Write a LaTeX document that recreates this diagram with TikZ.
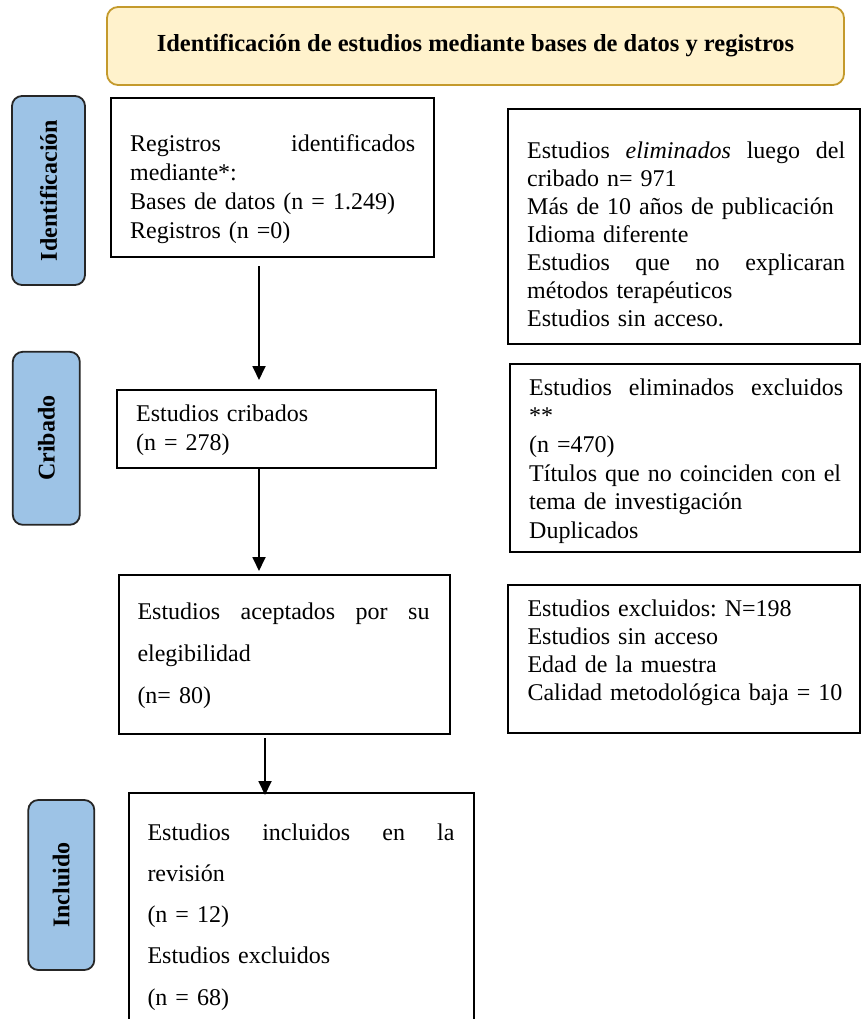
\documentclass[tikz,border=0pt]{standalone}
\usepackage{fontspec}
\setmainfont{Liberation Serif}
\frenchspacing
\usetikzlibrary{arrows.meta,calc}
\definecolor{titlefill}{HTML}{FFF2CC}
\definecolor{titledraw}{HTML}{C49A2C}
\definecolor{sidefill}{HTML}{9DC3E6}
\definecolor{sidedraw}{HTML}{262626}
\tikzset{
  titlebox/.style={draw=titledraw, fill=titlefill, line width=1.8pt, rounded corners=11pt,
    inner sep=0pt, font=\bfseries\fontsize{24.5}{28}\selectfont},
  sidebox/.style={draw=sidedraw, fill=sidefill, line width=1.8pt, rounded corners=10pt,
    inner sep=0pt, rotate=90, font=\bfseries\fontsize{24}{28}\selectfont},
  flowbox/.style={draw=black, line width=1.8pt, inner sep=0pt, anchor=north west},
  txt/.style={anchor=base west, inner sep=0pt, align=left,
    font={\fontsize{24}{#1}\selectfont\frenchspacing}},
  arr/.style={line width=1.8pt, -{Triangle[width=13pt,length=14pt]}}
}
\begin{document}
\begin{tikzpicture}[x=1pt,y=-1pt]
\useasboundingbox (0,0) rectangle (861,1019);
\clip (0,0) rectangle (861,1019);
\fill[white] (0,0) rectangle (861,1019);

% title
\node[titlebox, minimum width=737, minimum height=78] (title) at (475.5,46)
  {Identificación de estudios mediante bases de datos y registros};

% side labels
\node[sidebox, minimum width=189, minimum height=73] (s1) at (48.5,190.5) {Identificación};
\node[sidebox, minimum width=173, minimum height=67] (s2) at (46.3,438.3) {Cribado};
\node[sidebox, minimum width=170, minimum height=66] (s3) at (61.3,885) {Incluido};

% main boxes
\node[flowbox, minimum width=323, minimum height=159] (b1) at (110,97) {};
\node[flowbox, minimum width=319, minimum height=78] (b2) at (116,389) {};
\node[flowbox, minimum width=331, minimum height=159] (b3) at (118,574) {};
\node[flowbox, minimum width=345.6, minimum height=260] (b4) at (127.7,792) {};

% right boxes
\node[flowbox, minimum width=352, minimum height=235] (r1) at (507,108) {};
\node[flowbox, minimum width=350, minimum height=188] (r2) at (509,363) {};
\node[flowbox, minimum width=352, minimum height=148] (r3) at (507,584) {};

% texts
\node[txt=29, text width=285] (b1t) at (130,152)
  {Registros\hfill identificados\\ mediante*:\\ \mbox{Bases de datos (n = 1.249)}\\ Registros (n =0)};
\node[txt=28.3, text width=290] (b2t) at (136,421.7)
  {Estudios cribados\\ (n = 278)};
\node[txt=42, text width=292] (b3t) at (137.3,619.3)
  {Estudios\hfill aceptados\hfill por\hfill su\\ elegibilidad\\ (n= 80)};
\node[txt=41.3, text width=307] (b4t) at (147.3,840)
  {Estudios\hfill incluidos\hfill en\hfill la\\ revisión\\ (n = 12)\\ Estudios excluidos\\ (n = 68)};

\node[txt=27.9, text width=318] (r1t) at (527,159)
  {Estudios\hfill \textit{eliminados}\hfill luego\hfill del\\ cribado n= 971\\ \mbox{Más de 10 años de publicación}\\ Idioma diferente\\ Estudios\hfill que\hfill no\hfill explicaran\\ métodos terapéuticos\\ Estudios sin acceso.};
\node[txt=28.7, text width=314] (r2t) at (529,395)
  {Estudios\hfill eliminados\hfill excluidos\\ \relax**\\ (n =470)\\ \mbox{Títulos que no coinciden con el}\\ tema de investigación\\ Duplicados};
\node[txt=28, text width=320] (r3t) at (527.3,616.7)
  {\mbox{Estudios excluidos: N=198}\\ Estudios sin acceso\\ Edad de la muestra\\ \mbox{Calidad metodológica baja = 10}};

% connectors
\coordinate (p1) at (259,266);
\draw[arr, shorten >=9pt] (p1) -- (p1 |- b2.north);
\coordinate (p2) at (259,0);
\draw[arr, shorten >=3pt] (p2 |- b2.south) -- (p2 |- b3.north);
\coordinate (p3) at (265,738);
\draw[arr, shorten >=-3pt] (p3) -- (p3 |- b4.north);
\end{tikzpicture}
\end{document}
